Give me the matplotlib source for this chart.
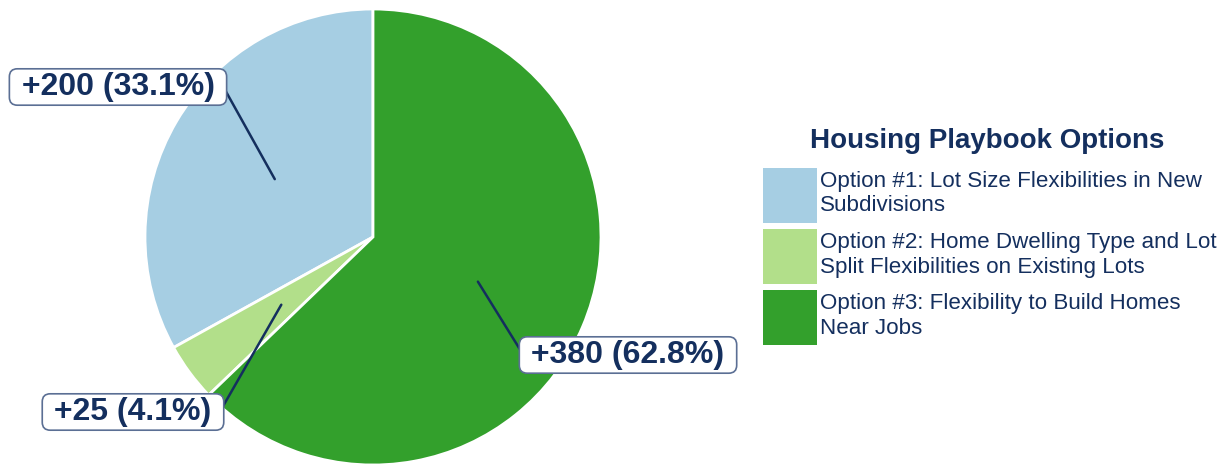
import matplotlib
matplotlib.use("Agg")
import matplotlib.pyplot as plt
import matplotlib.patches as mpatches
import numpy as np

plt.rcParams['font.family'] = ['Liberation Sans', 'DejaVu Sans']

# data
options = ["Option #1: Lot Size Flexibilities in New\nSubdivisions",
           "Option #2: Home Dwelling Type and Lot\nSplit Flexibilities on Existing Lots",
           "Option #3: Flexibility to Build Homes\nNear Jobs"]
homes   = [200, 25, 380]
shares  = [33.1, 4.1, 62.8]
colors  = ['#a6cee3', '#b2df8a', '#33a02c']
navy    = '#142f5e'

W, H = 1227, 466
dpi = 100
fig = plt.figure(figsize=(W/dpi, H/dpi), dpi=dpi)
ax = fig.add_axes([0, 0, 1, 1])

cx, cy, r = 373, H - 237, 228
wedges, _ = ax.pie(homes, colors=colors, startangle=90, counterclock=True,
                   center=(cx, cy), radius=r, frame=True,
                   wedgeprops=dict(edgecolor='white', linewidth=2))
ax.set_xlim(0, W)
ax.set_ylim(0, H)
ax.set_aspect('equal')
ax.axis('off')

# label box centres (pixels from top-left) and which side the leader line meets
box_pos = [(118, 87), (133, 412), (628, 355)]
box_side = [(1, 0.5), (1, 0.55), (0, 0.55)]
for w, v, s, (bx, by), rp in zip(wedges, homes, shares, box_pos, box_side):
    mid = np.deg2rad((w.theta1 + w.theta2) / 2)
    px = cx + 0.5 * r * np.cos(mid)
    py = cy + 0.5 * r * np.sin(mid)
    ax.annotate(f" +{v} ({s}%) ", xy=(px, py), xytext=(bx, H - by),
                ha='center', va='center', fontsize=23, fontweight='bold',
                color=navy,
                bbox=dict(boxstyle='round,pad=0.1,rounding_size=0.25',
                          fc='white', ec='#5b6f94', lw=1.2),
                arrowprops=dict(arrowstyle='-', color=navy, lw=1.8,
                                shrinkA=0, shrinkB=0, relpos=rp,
                                patchA=None))

handles = [mpatches.Patch(facecolor=c, edgecolor='none') for c in colors]
leg = fig.legend(handles, options, loc='upper left',
                 bbox_to_anchor=(763 / W, 1 - 168 / H),
                 frameon=False, fontsize=16.1, labelcolor=navy,
                 handlelength=2.41, handleheight=3.41, handletextpad=0.15,
                 labelspacing=0.27, borderaxespad=0, borderpad=0)

fig.text(987 / W, 1 - 148 / H, "Housing Playbook Options", ha='center',
         va='baseline', fontsize=20, fontweight='bold', color=navy)

fig.savefig('out.png', dpi=dpi)
plt.close()
